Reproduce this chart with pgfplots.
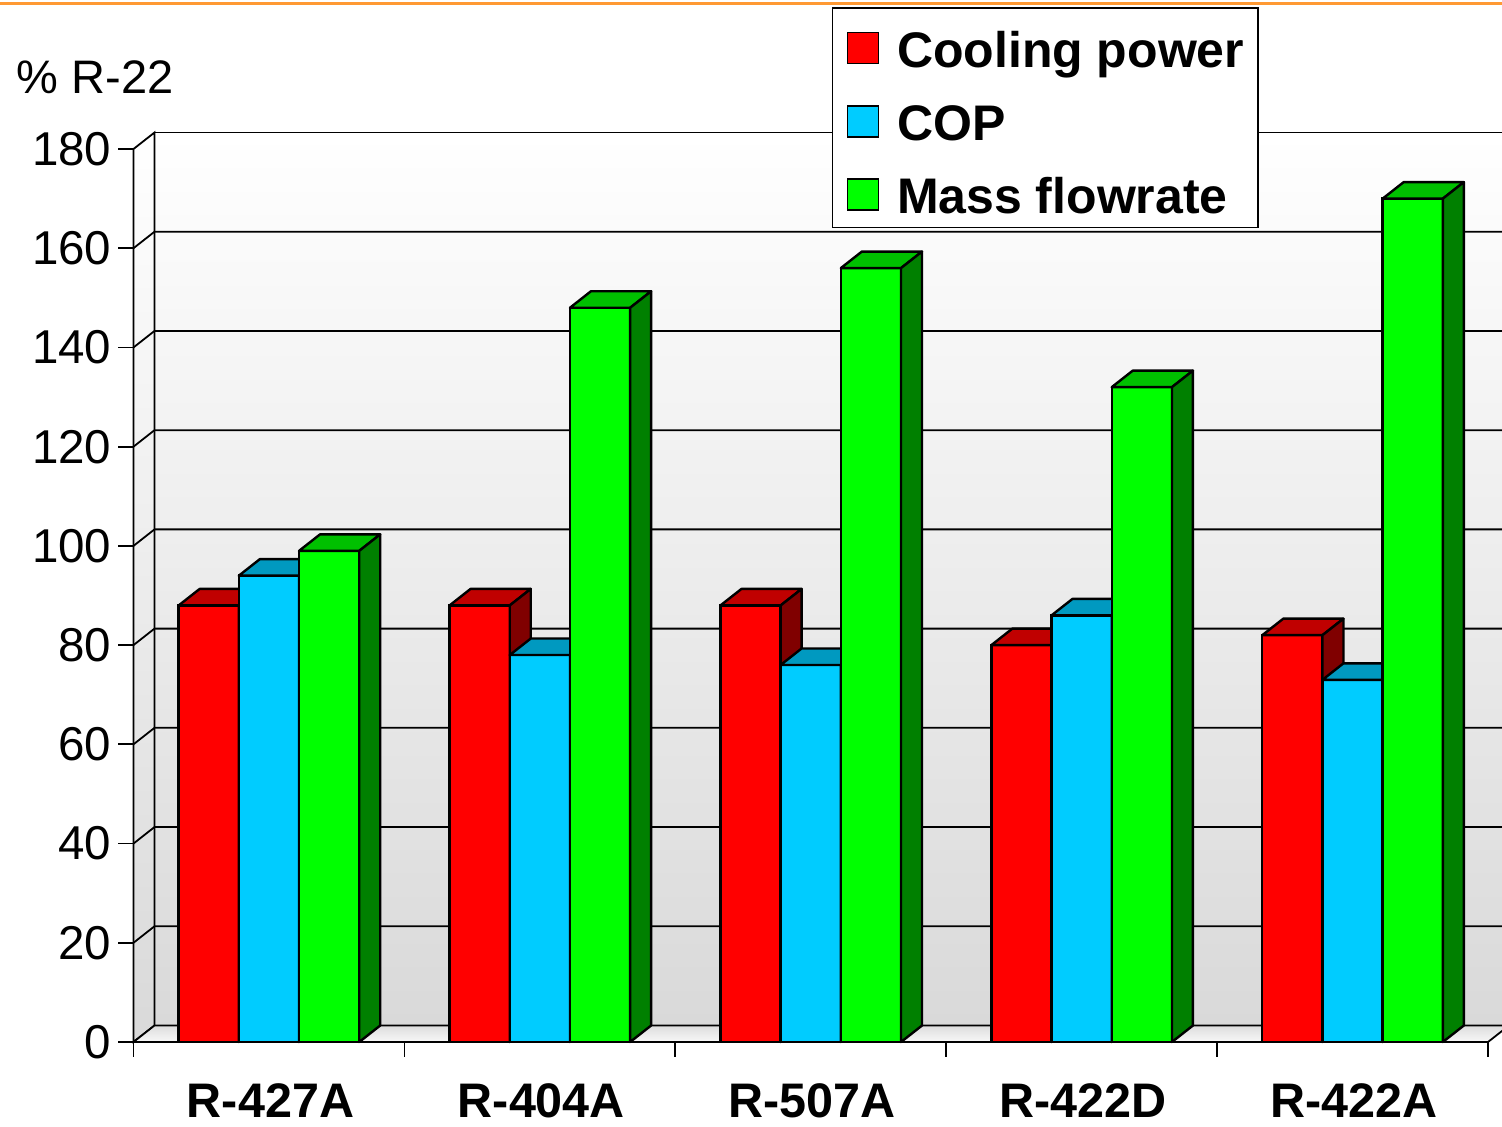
\documentclass[border=0pt]{standalone}
\usepackage{pgfplots}
\pgfplotsset{compat=1.18}
\usepackage{fontspec}
\setmainfont{Liberation Sans}
\definecolor{barR}{HTML}{FF0000}
\definecolor{barRt}{HTML}{C00000}
\definecolor{barRs}{HTML}{800000}
\definecolor{barC}{HTML}{00CCFF}
\definecolor{barCt}{HTML}{0099C0}
\definecolor{barCs}{HTML}{006A85}
\definecolor{barG}{HTML}{00FF00}
\definecolor{barGt}{HTML}{00C000}
\definecolor{barGs}{HTML}{008000}
\definecolor{wallbot}{HTML}{D9D9D9}
\definecolor{floortop}{HTML}{DDDDDD}
\definecolor{floorbot}{HTML}{F8F8F8}
\definecolor{orangeline}{HTML}{FF9933}
\def\bw{0.2222}
\def\ddx{0.0775}
\def\ddy{3.326}
% top and side faces of a bar: #1 centre, #2 value, #3 top colour, #4 side colour
\newcommand\topside[4]{%
  \pgfmathsetmacro\xl{#1-\bw/2}%
  \pgfmathsetmacro\xr{#1+\bw/2}%
  \pgfmathsetmacro\xlb{#1-\bw/2+\ddx}%
  \pgfmathsetmacro\xrb{#1+\bw/2+\ddx}%
  \pgfmathsetmacro\vt{#2+\ddy}%
  \addplot[forget plot, fill=#3, draw=black, line width=2.4pt, line join=round]
    coordinates {(\xl,#2) (\xlb,\vt) (\xrb,\vt) (\xr,#2)} -- cycle;
  \addplot[forget plot, fill=#4, draw=black, line width=2.4pt, line join=round]
    coordinates {(\xr,0) (\xr,#2) (\xrb,\vt) (\xrb,\ddy)} -- cycle;
}
\begin{document}
\begin{tikzpicture}
\useasboundingbox (0,0) rectangle (1502pt,1127pt);
\fill[white] (0,0) rectangle (1502pt,1127pt);
\draw[color=orangeline, line width=3.5pt] (0,1123.7pt) -- (1502pt,1123.7pt);
\begin{axis}[
  at={(133.5pt,85pt)}, anchor=south west,
  x=270.9pt, y=4.961pt,
  xmin=-0.5, xmax=4.5, ymin=0, ymax=180,
  clip=false,
  axis lines*=left,
  axis line style={line width=1.8pt, black},
  tick align=outside,
  major tick length=15pt,
  tick style={line width=1.8pt, black},
  ytick={0,20,...,180},
  xtick={-0.5,0.5,1.5,2.5,3.5,4.5},
  xticklabels={R-427A,R-404A,R-507A,R-422D,R-422A,{}},
  /pgf/number format/assume math mode=true,
  yticklabel style={font=\fontsize{47.5}{56}\selectfont, inner sep=0pt, xshift=-7pt},
  xticklabel style={font=\fontsize{48.5}{58}\selectfont\bfseries, inner sep=0pt, xshift=137pt, yshift=-26pt},
  legend style={at={(0.5155,1.1587)}, anchor=north west, draw=black, line width=1.5pt,
    fill=white, font=\fontsize{50}{60}\selectfont\bfseries,
    inner xsep=14pt, inner ysep=4pt, row sep=8.3pt, column sep=17.7pt,
    nodes={inner sep=0pt, text height=55pt, text depth=10pt}},
  legend cell align=left,
]
% back wall
\addplot[forget plot, draw=black, line width=1.8pt, top color=white, bottom color=wallbot]
  coordinates {(-0.4225,3.326) (-0.4225,183.326) (4.5775,183.326) (4.5775,3.326)} -- cycle;
% left wall
\addplot[forget plot, draw=black, line width=1.8pt, top color=white, bottom color=wallbot]
  coordinates {(-0.5,0) (-0.5,180) (-0.4225,183.326) (-0.4225,3.326)} -- cycle;
% floor
\addplot[forget plot, draw=black, line width=1.8pt, top color=floortop, bottom color=floorbot]
  coordinates {(-0.5,0) (-0.4225,3.326) (4.5775,3.326) (4.5,0)} -- cycle;
% grid lines
\addplot[forget plot, black, line width=1.8pt] coordinates {(-0.5,20) (-0.4225,23.326) (4.5775,23.326)};
\addplot[forget plot, black, line width=1.8pt] coordinates {(-0.5,40) (-0.4225,43.326) (4.5775,43.326)};
\addplot[forget plot, black, line width=1.8pt] coordinates {(-0.5,60) (-0.4225,63.326) (4.5775,63.326)};
\addplot[forget plot, black, line width=1.8pt] coordinates {(-0.5,80) (-0.4225,83.326) (4.5775,83.326)};
\addplot[forget plot, black, line width=1.8pt] coordinates {(-0.5,100) (-0.4225,103.326) (4.5775,103.326)};
\addplot[forget plot, black, line width=1.8pt] coordinates {(-0.5,120) (-0.4225,123.326) (4.5775,123.326)};
\addplot[forget plot, black, line width=1.8pt] coordinates {(-0.5,140) (-0.4225,143.326) (4.5775,143.326)};
\addplot[forget plot, black, line width=1.8pt] coordinates {(-0.5,160) (-0.4225,163.326) (4.5775,163.326)};
% Cooling power
\addplot[ybar, bar width=0.2222, bar shift=-0.2222, fill=barR, draw=black, line width=2.4pt,
  legend image code/.code={\draw[fill=barR, draw=black, line width=1.8pt] (0pt,-19pt) rectangle (31pt,12pt);}]
  coordinates {(0,88) (1,88) (2,88) (3,80) (4,82)};
\addlegendentry{Cooling power}
\topside{-0.2222}{88}{barRt}{barRs}
\topside{0.7778}{88}{barRt}{barRs}
\topside{1.7778}{88}{barRt}{barRs}
\topside{2.7778}{80}{barRt}{barRs}
\topside{3.7778}{82}{barRt}{barRs}
% COP
\addplot[ybar, bar width=0.2222, bar shift=0, fill=barC, draw=black, line width=2.4pt,
  legend image code/.code={\draw[fill=barC, draw=black, line width=1.8pt] (0pt,-19pt) rectangle (31pt,12pt);}]
  coordinates {(0,94) (1,78) (2,76) (3,86) (4,73)};
\addlegendentry{COP}
\topside{0}{94}{barCt}{barCs}
\topside{1}{78}{barCt}{barCs}
\topside{2}{76}{barCt}{barCs}
\topside{3}{86}{barCt}{barCs}
\topside{4}{73}{barCt}{barCs}
% Mass flowrate
\addplot[ybar, bar width=0.2222, bar shift=0.2222, fill=barG, draw=black, line width=2.4pt,
  legend image code/.code={\draw[fill=barG, draw=black, line width=1.8pt] (0pt,-19pt) rectangle (31pt,12pt);}]
  coordinates {(0,99) (1,148) (2,156) (3,132) (4,170)};
\addlegendentry{Mass flowrate}
\topside{0.2222}{99}{barGt}{barGs}
\topside{1.2222}{148}{barGt}{barGs}
\topside{2.2222}{156}{barGt}{barGs}
\topside{3.2222}{132}{barGt}{barGs}
\topside{4.2222}{170}{barGt}{barGs}
\node[anchor=base west, inner sep=0pt, font=\fontsize{47}{56}\selectfont]
  at (axis description cs:-0.0862,1.0627) {\% R-22};
\end{axis}
\end{tikzpicture}
\end{document}
